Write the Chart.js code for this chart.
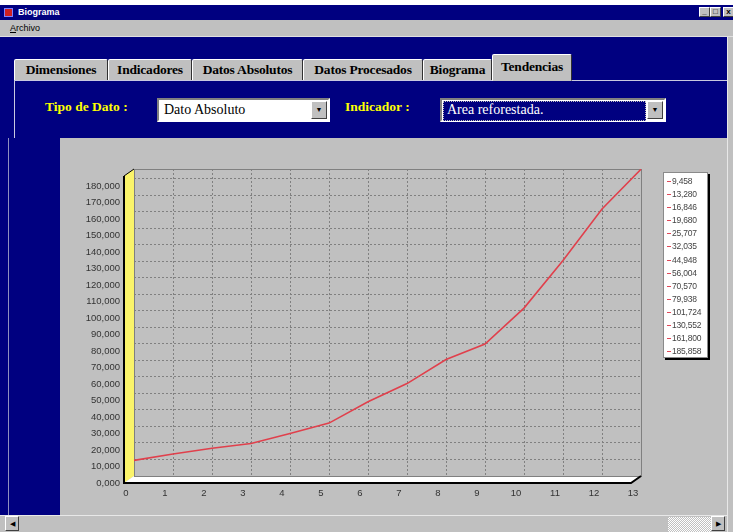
<!DOCTYPE html>
<html lang="es">
<head>
<meta charset="utf-8">
<title>Biograma</title>
<script src="https://cdn.jsdelivr.net/npm/chart.js@4.4.1/dist/chart.umd.min.js"></script>
<style>
  body{margin:0;width:733px;height:532px;overflow:hidden;background:#000080;position:relative;font-family:"Liberation Serif",serif}
  .a{position:absolute;box-sizing:border-box}
  .titulo{left:0;top:0;width:733px;height:5px;background:#fff}
  .barra{left:0;top:5px;width:733px;height:15px;background:#000080;color:#fff;font:bold 9px "Liberation Sans",sans-serif;line-height:15px;padding-left:18px}
  .ico{left:4px;top:8px;width:9px;height:9px;background:#d02020;border:1px solid #8080ff}
  .btn{top:7px;width:11px;height:10px;background:#c0c0c0;border:1px solid;border-color:#fff #404040 #404040 #fff;font:bold 8px "Liberation Sans";line-height:8px;text-align:center;color:#000}
  .menu{left:0;top:20px;width:733px;height:17px;background:#c0c0c0;font:9px "Liberation Sans",sans-serif;line-height:17px;padding-left:10px;border-bottom:1px solid #e0e0e0}
  .tab{top:59px;height:22px;background:#c0c0c0;border:1px solid;border-color:#fff #303030 transparent #fff;border-radius:2px 2px 0 0;font:bold 13.5px "Liberation Serif",serif;line-height:20px;text-align:center;color:#000;white-space:nowrap;letter-spacing:-.2px}
  .tab.sel{top:54px;height:27px;line-height:24px;z-index:2}
  .lbl{top:99px;color:#ffff00;font:bold 13.5px "Liberation Serif",serif}
  .combo{top:98px;height:24px;border:2px solid;border-color:#808080 #fff #fff #808080;font:14px "Liberation Serif",serif;line-height:20px;padding-left:5px}
  .flecha{top:1px;right:1px;width:16px;height:18px;background:#c0c0c0;border:1px solid;border-color:#fff #404040 #404040 #fff;font:7px "Liberation Sans";line-height:16px;text-align:center;color:#000}
  .panel{left:60px;top:138px;width:667px;height:377px;background:#c0c0c0}
  #grafico{position:absolute;left:60px;top:140px}
  .leyenda{left:663px;top:172px;width:45px;height:186px;background:#fff;border:1px solid #8a8a8a;box-shadow:2px 2px 0 #000;padding-top:2px}
  .item{height:13.1px;font:8.5px "Liberation Sans",sans-serif;line-height:13px;color:#444;padding-left:8px;position:relative;letter-spacing:-.2px}
  .item i{position:absolute;left:3px;top:6px;width:4px;height:1px;background:#e04858}
  .hscroll{left:0;top:515px;width:727px;height:17px;background:#c0c0c0;border-top:1px solid #e8e8e8}
  .vscroll{left:727px;top:37px;width:6px;height:495px;background:#c0c0c0;border-left:1px solid #e8e8e8}
  .sb{width:14px;height:15px;background:#c0c0c0;border:1px solid;border-color:#fff #404040 #404040 #fff;font:7px "Liberation Sans";line-height:13px;text-align:center}
  .track{left:668px;top:1px;width:43px;height:15px;background:repeating-conic-gradient(#fff 0 25%,#c0c0c0 0 50%) 0 0/2px 2px}
</style>
</head>
<body>
<div class="a titulo"></div>
<div class="a barra">Biograma</div>
<div class="a ico"></div>
<div class="a btn" style="left:699px">_</div>
<div class="a btn" style="left:710px">&#9633;</div>
<div class="a btn" style="left:723px">x</div>
<div class="a menu"><u>A</u>rchivo</div>

<!-- pestañas -->
<div class="a tab" style="left:14px;width:94px">Dimensiones</div>
<div class="a tab" style="left:108px;width:84px">Indicadores</div>
<div class="a tab" style="left:192px;width:111px">Datos Absolutos</div>
<div class="a tab" style="left:303px;width:120px">Datos Procesados</div>
<div class="a tab" style="left:423px;width:69px">Biograma</div>
<div class="a tab sel" style="left:492px;width:80px">Tendencias</div>
<div class="a" style="left:14px;top:80px;width:713px;height:1px;background:#c8c8e0"></div>
<div class="a" style="left:14px;top:80px;width:1px;height:58px;background:#c8c8e0"></div>

<div class="a lbl" style="left:45px">Tipo de Dato :</div>
<div class="a combo" style="left:157px;width:173px;background:#fff">Dato Absoluto<div class="a flecha">&#9660;</div></div>
<div class="a lbl" style="left:345px">Indicador :</div>
<div class="a combo" style="left:440px;width:226px;background:#fff;padding:1px">
  <div style="height:18px;background:#000080;color:#fff;border:1px dotted #c0c0c0;padding-left:3px;line-height:16px;margin-right:17px">Area reforestada.</div>
  <div class="a flecha">&#9660;</div>
</div>

<div class="a panel"></div>
<canvas id="grafico" width="667" height="375"></canvas>
<div class="a leyenda" id="leyenda"></div>

<div class="a" style="left:8px;top:138px;width:1px;height:377px;background:#9090c0"></div>
<div class="a hscroll">
  <div class="a sb" style="left:5px;top:0">&#9664;</div>
  <div class="a track"></div>
  <div class="a sb" style="left:711px;top:0">&#9654;</div>
</div>
<div class="a vscroll"></div>

<script>
// datos: periodo (eje x) y área reforestada (eje y)
const periodos=[0,1,2,3,4,5,6,7,8,9,10,11,12,13];
const areaReforestada=[9458,13280,16846,19680,25707,32035,44948,56004,70570,79938,101724,130552,161800,185858];
const yTicks=[0,10000,20000,30000,40000,50000,60000,70000,80000,90000,100000,110000,120000,130000,140000,150000,160000,170000,180000];
const yMax=186000;

const fmt=v=>v===0?'0,000':v.toLocaleString('en-US');

// leyenda: un renglón por valor
document.getElementById('leyenda').innerHTML=areaReforestada.map(v=>`<div class="item"><i></i>${fmt(v)}</div>`).join('');

// paredes 3D: pared izquierda amarilla y piso blanco
const DX=10, DY=7;
const marco3d={id:'marco3d',
  beforeDatasetsDraw(c){
    const {ctx,chartArea:a}=c, L=a.left,R=a.right,T=a.top,B=a.bottom;
    ctx.save();
    ctx.fillStyle='#fbf46a';
    ctx.beginPath();ctx.moveTo(L-DX,T+DY);ctx.lineTo(L,T);ctx.lineTo(L,B);ctx.lineTo(L-DX,B+DY);ctx.closePath();ctx.fill();
    ctx.fillStyle='#fff';
    ctx.beginPath();ctx.moveTo(L-DX,B+DY);ctx.lineTo(L,B);ctx.lineTo(R,B);ctx.lineTo(R-DX,B+DY);ctx.closePath();ctx.fill();
    ctx.strokeStyle='#808080';ctx.lineWidth=1;
    ctx.strokeRect(L+.5,T+.5,R-L,B-T);
    ctx.strokeStyle='#000';ctx.lineWidth=2;
    ctx.beginPath();ctx.moveTo(L-DX,T+DY);ctx.lineTo(L-DX,B+DY);ctx.lineTo(R-DX,B+DY);ctx.lineTo(R,B);ctx.stroke();
    ctx.lineWidth=1;ctx.beginPath();ctx.moveTo(L-DX,T+DY);ctx.lineTo(L,T);ctx.stroke();
    ctx.restore();
  }};

new Chart(document.getElementById('grafico'),{
  type:'line',
  data:{labels:periodos,datasets:[{data:areaReforestada,borderColor:'#e0404c',borderWidth:1.6,pointRadius:0,tension:0,fill:false}]},
  options:{responsive:false,animation:false,
    layout:{padding:{left:0,top:29,right:86,bottom:0}},
    plugins:{legend:{display:false},tooltip:{enabled:false}},
    scales:{
      x:{offset:false,afterFit:s=>{s.height=39;},
        grid:{color:'#808080',drawTicks:false},border:{display:false,dash:[2,2]},
        ticks:{padding:12,labelOffset:-8,autoSkip:false,maxRotation:0,color:'#333',font:{family:'Liberation Sans',size:9.5}}},
      y:{min:0,max:yMax,afterFit:s=>{s.width=74;},
        afterBuildTicks:s=>{s.ticks=yTicks.map(v=>({value:v}));},
        grid:{color:'#808080',drawTicks:false},border:{display:false,dash:[2,2]},
        ticks:{autoSkip:false,padding:14,labelOffset:7,color:'#333',font:{family:'Liberation Sans',size:9.5},callback:fmt}}
    }},
  plugins:[marco3d]
});
</script>
</body>
</html>
